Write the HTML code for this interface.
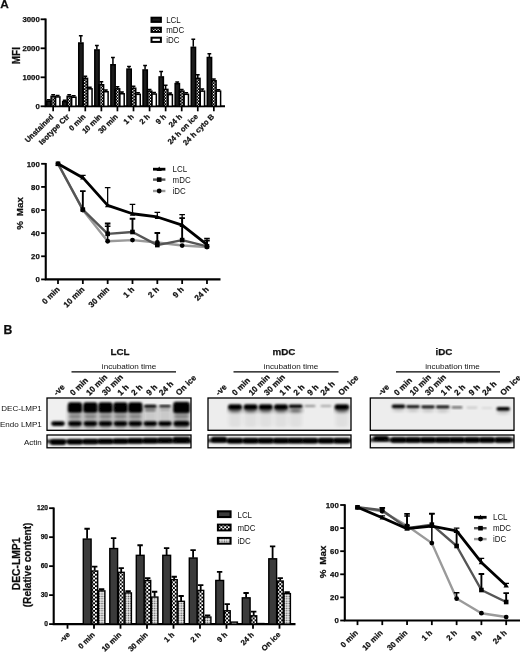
<!DOCTYPE html>
<html><head><meta charset="utf-8"><title>Figure</title>
<style>html,body{margin:0;padding:0;background:#fff;}svg{display:block;}text{font-family:"Liberation Sans", sans-serif;}</style>
</head><body>
<svg width="520" height="653" viewBox="0 0 520 653">
<defs>
<pattern id="chk" width="3" height="3" patternUnits="userSpaceOnUse"><rect width="3" height="3" fill="#000"/><rect width="1.3" height="1.3" fill="#fff"/><rect x="1.5" y="1.5" width="1.3" height="1.3" fill="#fff"/></pattern>
<pattern id="dot" width="2.4" height="2.4" patternUnits="userSpaceOnUse"><rect width="2.4" height="2.4" fill="#fff"/><rect x="0.5" y="0.5" width="1.4" height="1.4" fill="#444"/></pattern><pattern id="chk2" width="3.8" height="3.8" patternUnits="userSpaceOnUse"><rect width="3.8" height="3.8" fill="#fff"/><rect width="1.9" height="1.9" fill="#000"/><rect x="1.9" y="1.9" width="1.9" height="1.9" fill="#000"/></pattern>
<filter id="b1" x="-20%" y="-50%" width="140%" height="200%"><feGaussianBlur stdDeviation="1.1 0.9"/></filter>
<filter id="b2" x="-20%" y="-50%" width="140%" height="200%"><feGaussianBlur stdDeviation="2 1.6"/></filter>
<filter id="soft"><feGaussianBlur stdDeviation="0.35"/></filter>
</defs>
<rect width="520" height="653" fill="#fff"/>
<g filter="url(#soft)">
<text x="0.3" y="8.3" font-size="11.8" font-weight="bold" text-anchor="start" fill="#111" stroke="#111" stroke-width="0.25">A</text>
<g stroke="#000" stroke-width="2.1" fill="none">
<path d="M45.6 18.499999999999996 V106.3 H225"/>
<path d="M40.6 106.3 H45.6" stroke-width="1.8"/>
<path d="M40.6 77.3 H45.6" stroke-width="1.8"/>
<path d="M40.6 48.3 H45.6" stroke-width="1.8"/>
<path d="M40.6 19.299999999999997 H45.6" stroke-width="1.8"/>
</g>
<text x="39.800000000000004" y="108.8" font-size="7.8" font-weight="bold" text-anchor="end" fill="#111" stroke="#111" stroke-width="0.25">0</text>
<text x="39.800000000000004" y="79.8" font-size="7.8" font-weight="bold" text-anchor="end" fill="#111" stroke="#111" stroke-width="0.25">1000</text>
<text x="39.800000000000004" y="50.8" font-size="7.8" font-weight="bold" text-anchor="end" fill="#111" stroke="#111" stroke-width="0.25">2000</text>
<text x="39.800000000000004" y="21.799999999999997" font-size="7.8" font-weight="bold" text-anchor="end" fill="#111" stroke="#111" stroke-width="0.25">3000</text>
<text x="19.8" y="55.6" font-size="10" font-weight="bold" text-anchor="middle" fill="#111" transform="rotate(-90 19.8 55.6)" stroke="#111" stroke-width="0.25">MFI</text>
<path d="M53.15 106.3 V111.3" stroke="#000" stroke-width="1.7"/>
<text x="53.95" y="117.1" font-size="7.6" font-weight="bold" text-anchor="end" fill="#111" transform="rotate(-45 53.95 117.1)" stroke="#111" stroke-width="0.25">Unstained</text>
<path d="M48.65 100.5 V99.63 M46.75 99.63 H50.55" stroke="#000" stroke-width="1.5" fill="none"/>
<rect x="46.6" y="101.0" width="4.3" height="5.3" fill="#1a1a1a" stroke="#000" stroke-width="1.5"/>
<path d="M53.15 95.86 V94.7 M51.25 94.7 H55.05" stroke="#000" stroke-width="1.5" fill="none"/>
<rect x="51.1" y="96.36" width="4.3" height="9.94" fill="url(#chk)" stroke="#000" stroke-width="1.5"/>
<path d="M57.65 96.44 V95.57 M55.75 95.57 H59.55" stroke="#000" stroke-width="1.5" fill="none"/>
<rect x="55.6" y="96.94" width="4.3" height="9.36" fill="#fff" stroke="#000" stroke-width="1.5"/>
<path d="M69.22 106.3 V111.3" stroke="#000" stroke-width="1.7"/>
<text x="70.02" y="117.1" font-size="7.6" font-weight="bold" text-anchor="end" fill="#111" transform="rotate(-45 70.02 117.1)" stroke="#111" stroke-width="0.25">Isotype Ctr</text>
<path d="M64.72 101.08 V100.21 M62.82 100.21 H66.62" stroke="#000" stroke-width="1.5" fill="none"/>
<rect x="62.67" y="101.58" width="4.3" height="4.72" fill="#1a1a1a" stroke="#000" stroke-width="1.5"/>
<path d="M69.22 95.86 V94.7 M67.32 94.7 H71.12" stroke="#000" stroke-width="1.5" fill="none"/>
<rect x="67.17" y="96.36" width="4.3" height="9.94" fill="url(#chk)" stroke="#000" stroke-width="1.5"/>
<path d="M73.72 96.73 V95.86 M71.82 95.86 H75.62" stroke="#000" stroke-width="1.5" fill="none"/>
<rect x="71.67" y="97.23" width="4.3" height="9.07" fill="#fff" stroke="#000" stroke-width="1.5"/>
<path d="M85.29 106.3 V111.3" stroke="#000" stroke-width="1.7"/>
<text x="86.09" y="117.1" font-size="7.6" font-weight="bold" text-anchor="end" fill="#111" transform="rotate(-45 86.09 117.1)" stroke="#111" stroke-width="0.25">0 min</text>
<path d="M80.79 42.5 V35.83 M78.89 35.83 H82.69" stroke="#000" stroke-width="1.5" fill="none"/>
<rect x="78.74" y="43.0" width="4.3" height="63.3" fill="#1a1a1a" stroke="#000" stroke-width="1.5"/>
<path d="M85.29 77.88 V76.14 M83.39 76.14 H87.19" stroke="#000" stroke-width="1.5" fill="none"/>
<rect x="83.24" y="78.38" width="4.3" height="27.92" fill="url(#chk)" stroke="#000" stroke-width="1.5"/>
<path d="M89.79 88.32 V87.16 M87.89 87.16 H91.69" stroke="#000" stroke-width="1.5" fill="none"/>
<rect x="87.74" y="88.82" width="4.3" height="17.48" fill="#fff" stroke="#000" stroke-width="1.5"/>
<path d="M101.36 106.3 V111.3" stroke="#000" stroke-width="1.7"/>
<text x="102.16" y="117.1" font-size="7.6" font-weight="bold" text-anchor="end" fill="#111" transform="rotate(-45 102.16 117.1)" stroke="#111" stroke-width="0.25">10 min</text>
<path d="M96.86 49.46 V45.4 M94.96 45.4 H98.76" stroke="#000" stroke-width="1.5" fill="none"/>
<rect x="94.81" y="49.96" width="4.3" height="56.34" fill="#1a1a1a" stroke="#000" stroke-width="1.5"/>
<path d="M101.36 84.26 V81.65 M99.46 81.65 H103.26" stroke="#000" stroke-width="1.5" fill="none"/>
<rect x="99.31" y="84.76" width="4.3" height="21.54" fill="url(#chk)" stroke="#000" stroke-width="1.5"/>
<path d="M105.86 91.22 V90.06 M103.96 90.06 H107.76" stroke="#000" stroke-width="1.5" fill="none"/>
<rect x="103.81" y="91.72" width="4.3" height="14.58" fill="#fff" stroke="#000" stroke-width="1.5"/>
<path d="M117.43 106.3 V111.3" stroke="#000" stroke-width="1.7"/>
<text x="118.23" y="117.1" font-size="7.6" font-weight="bold" text-anchor="end" fill="#111" transform="rotate(-45 118.23 117.1)" stroke="#111" stroke-width="0.25">30 min</text>
<path d="M112.93 64.25 V57.58 M111.03 57.58 H114.83" stroke="#000" stroke-width="1.5" fill="none"/>
<rect x="110.88" y="64.75" width="4.3" height="41.55" fill="#1a1a1a" stroke="#000" stroke-width="1.5"/>
<path d="M117.43 88.32 V86.87 M115.53 86.87 H119.33" stroke="#000" stroke-width="1.5" fill="none"/>
<rect x="115.38" y="88.82" width="4.3" height="17.48" fill="url(#chk)" stroke="#000" stroke-width="1.5"/>
<path d="M121.93 93.25 V92.09 M120.03 92.09 H123.83" stroke="#000" stroke-width="1.5" fill="none"/>
<rect x="119.88" y="93.75" width="4.3" height="12.55" fill="#fff" stroke="#000" stroke-width="1.5"/>
<path d="M133.5 106.3 V111.3" stroke="#000" stroke-width="1.7"/>
<text x="134.3" y="117.1" font-size="7.6" font-weight="bold" text-anchor="end" fill="#111" transform="rotate(-45 134.3 117.1)" stroke="#111" stroke-width="0.25">1 h</text>
<path d="M129.0 68.6 V66.57 M127.1 66.57 H130.9" stroke="#000" stroke-width="1.5" fill="none"/>
<rect x="126.95" y="69.1" width="4.3" height="37.2" fill="#1a1a1a" stroke="#000" stroke-width="1.5"/>
<path d="M133.5 87.74 V86.29 M131.6 86.29 H135.4" stroke="#000" stroke-width="1.5" fill="none"/>
<rect x="131.45" y="88.24" width="4.3" height="18.06" fill="url(#chk)" stroke="#000" stroke-width="1.5"/>
<path d="M138.0 93.83 V92.67 M136.1 92.67 H139.9" stroke="#000" stroke-width="1.5" fill="none"/>
<rect x="135.95" y="94.33" width="4.3" height="11.97" fill="#fff" stroke="#000" stroke-width="1.5"/>
<path d="M149.57 106.3 V111.3" stroke="#000" stroke-width="1.7"/>
<text x="150.37" y="117.1" font-size="7.6" font-weight="bold" text-anchor="end" fill="#111" transform="rotate(-45 150.37 117.1)" stroke="#111" stroke-width="0.25">2 h</text>
<path d="M145.07 69.47 V65.41 M143.17 65.41 H146.97" stroke="#000" stroke-width="1.5" fill="none"/>
<rect x="143.02" y="69.97" width="4.3" height="36.33" fill="#1a1a1a" stroke="#000" stroke-width="1.5"/>
<path d="M149.57 90.64 V89.48 M147.67 89.48 H151.47" stroke="#000" stroke-width="1.5" fill="none"/>
<rect x="147.52" y="91.14" width="4.3" height="15.16" fill="url(#chk)" stroke="#000" stroke-width="1.5"/>
<path d="M154.07 93.54 V92.38 M152.17 92.38 H155.97" stroke="#000" stroke-width="1.5" fill="none"/>
<rect x="152.02" y="94.04" width="4.3" height="12.26" fill="#fff" stroke="#000" stroke-width="1.5"/>
<path d="M165.64 106.3 V111.3" stroke="#000" stroke-width="1.7"/>
<text x="166.44" y="117.1" font-size="7.6" font-weight="bold" text-anchor="end" fill="#111" transform="rotate(-45 166.44 117.1)" stroke="#111" stroke-width="0.25">9 h</text>
<path d="M161.14 76.43 V71.5 M159.24 71.5 H163.04" stroke="#000" stroke-width="1.5" fill="none"/>
<rect x="159.09" y="76.93" width="4.3" height="29.37" fill="#1a1a1a" stroke="#000" stroke-width="1.5"/>
<path d="M165.64 88.9 V85.13 M163.74 85.13 H167.54" stroke="#000" stroke-width="1.5" fill="none"/>
<rect x="163.59" y="89.4" width="4.3" height="16.9" fill="url(#chk)" stroke="#000" stroke-width="1.5"/>
<path d="M170.14 94.12 V92.96 M168.24 92.96 H172.04" stroke="#000" stroke-width="1.5" fill="none"/>
<rect x="168.09" y="94.62" width="4.3" height="11.68" fill="#fff" stroke="#000" stroke-width="1.5"/>
<path d="M181.71 106.3 V111.3" stroke="#000" stroke-width="1.7"/>
<text x="182.51" y="117.1" font-size="7.6" font-weight="bold" text-anchor="end" fill="#111" transform="rotate(-45 182.51 117.1)" stroke="#111" stroke-width="0.25">24 h</text>
<path d="M177.21 83.1 V81.94 M175.31 81.94 H179.11" stroke="#000" stroke-width="1.5" fill="none"/>
<rect x="175.16" y="83.6" width="4.3" height="22.7" fill="#1a1a1a" stroke="#000" stroke-width="1.5"/>
<path d="M181.71 90.64 V89.48 M179.81 89.48 H183.61" stroke="#000" stroke-width="1.5" fill="none"/>
<rect x="179.66" y="91.14" width="4.3" height="15.16" fill="url(#chk)" stroke="#000" stroke-width="1.5"/>
<path d="M186.21 93.83 V92.67 M184.31 92.67 H188.11" stroke="#000" stroke-width="1.5" fill="none"/>
<rect x="184.16" y="94.33" width="4.3" height="11.97" fill="#fff" stroke="#000" stroke-width="1.5"/>
<path d="M197.78 106.3 V111.3" stroke="#000" stroke-width="1.7"/>
<text x="198.58" y="117.1" font-size="7.6" font-weight="bold" text-anchor="end" fill="#111" transform="rotate(-45 198.58 117.1)" stroke="#111" stroke-width="0.25">24 h on ice</text>
<path d="M193.28 46.85 V39.31 M191.38 39.31 H195.18" stroke="#000" stroke-width="1.5" fill="none"/>
<rect x="191.23" y="47.35" width="4.3" height="58.95" fill="#1a1a1a" stroke="#000" stroke-width="1.5"/>
<path d="M197.78 77.88 V74.69 M195.88 74.69 H199.68" stroke="#000" stroke-width="1.5" fill="none"/>
<rect x="195.73" y="78.38" width="4.3" height="27.92" fill="url(#chk)" stroke="#000" stroke-width="1.5"/>
<path d="M202.28 90.64 V88.9 M200.38 88.9 H204.18" stroke="#000" stroke-width="1.5" fill="none"/>
<rect x="200.23" y="91.14" width="4.3" height="15.16" fill="#fff" stroke="#000" stroke-width="1.5"/>
<path d="M213.85 106.3 V111.3" stroke="#000" stroke-width="1.7"/>
<text x="214.65" y="117.1" font-size="7.6" font-weight="bold" text-anchor="end" fill="#111" transform="rotate(-45 214.65 117.1)" stroke="#111" stroke-width="0.25">24 h cyto B</text>
<path d="M209.35 57.0 V53.81 M207.45 53.81 H211.25" stroke="#000" stroke-width="1.5" fill="none"/>
<rect x="207.3" y="57.5" width="4.3" height="48.8" fill="#1a1a1a" stroke="#000" stroke-width="1.5"/>
<path d="M213.85 80.2 V79.04 M211.95 79.04 H215.75" stroke="#000" stroke-width="1.5" fill="none"/>
<rect x="211.8" y="80.7" width="4.3" height="25.6" fill="url(#chk)" stroke="#000" stroke-width="1.5"/>
<path d="M218.35 90.64 V89.77 M216.45 89.77 H220.25" stroke="#000" stroke-width="1.5" fill="none"/>
<rect x="216.3" y="91.14" width="4.3" height="15.16" fill="#fff" stroke="#000" stroke-width="1.5"/>
<rect x="151.5" y="17.7" width="9.4" height="4.2" fill="#1a1a1a" stroke="#000" stroke-width="2"/>
<text x="0" y="0" font-size="8.6" font-weight="normal" text-anchor="start" fill="#111" transform="translate(166.2 22.7) scale(0.92 1)">LCL</text>
<rect x="151.5" y="27.7" width="9.4" height="4.2" fill="url(#chk)" stroke="#000" stroke-width="2"/>
<text x="0" y="0" font-size="8.6" font-weight="normal" text-anchor="start" fill="#111" transform="translate(166.2 32.7) scale(0.92 1)">mDC</text>
<rect x="151.5" y="37.7" width="9.4" height="4.2" fill="#fff" stroke="#000" stroke-width="2"/>
<text x="0" y="0" font-size="8.6" font-weight="normal" text-anchor="start" fill="#111" transform="translate(166.2 42.7) scale(0.92 1)">iDC</text>
<g stroke="#000" stroke-width="2.1" fill="none">
<path d="M45.75 162.99999999999997 V279.4 H220.5"/>
<path d="M41.15 279.4 H45.75" stroke-width="1.8"/>
<path d="M41.15 256.28 H45.75" stroke-width="1.8"/>
<path d="M41.15 233.15999999999997 H45.75" stroke-width="1.8"/>
<path d="M41.15 210.03999999999996 H45.75" stroke-width="1.8"/>
<path d="M41.15 186.92 H45.75" stroke-width="1.8"/>
<path d="M41.15 163.79999999999998 H45.75" stroke-width="1.8"/>
</g>
<text x="39.75" y="282.2" font-size="7.8" font-weight="bold" text-anchor="end" fill="#111" stroke="#111" stroke-width="0.25">0</text>
<text x="39.75" y="259.08" font-size="7.8" font-weight="bold" text-anchor="end" fill="#111" stroke="#111" stroke-width="0.25">20</text>
<text x="39.75" y="235.95999999999998" font-size="7.8" font-weight="bold" text-anchor="end" fill="#111" stroke="#111" stroke-width="0.25">40</text>
<text x="39.75" y="212.83999999999997" font-size="7.8" font-weight="bold" text-anchor="end" fill="#111" stroke="#111" stroke-width="0.25">60</text>
<text x="39.75" y="189.72" font-size="7.8" font-weight="bold" text-anchor="end" fill="#111" stroke="#111" stroke-width="0.25">80</text>
<text x="39.75" y="166.6" font-size="7.8" font-weight="bold" text-anchor="end" fill="#111" stroke="#111" stroke-width="0.25">100</text>
<text x="23.2" y="213.5" font-size="9.8" font-weight="bold" text-anchor="middle" fill="#111" transform="rotate(-90 23.2 213.5)" word-spacing="2.2" stroke="#111" stroke-width="0.25">% Max</text>
<path d="M58.0 279.4 V284.0" stroke="#000" stroke-width="1.8"/>
<text x="60.2" y="289.9" font-size="8.1" font-weight="bold" text-anchor="end" fill="#111" transform="rotate(-45 60.2 289.9)" stroke="#111" stroke-width="0.25">0 min</text>
<path d="M82.83 279.4 V284.0" stroke="#000" stroke-width="1.8"/>
<text x="85.03" y="289.9" font-size="8.1" font-weight="bold" text-anchor="end" fill="#111" transform="rotate(-45 85.03 289.9)" stroke="#111" stroke-width="0.25">10 min</text>
<path d="M107.66 279.4 V284.0" stroke="#000" stroke-width="1.8"/>
<text x="109.86" y="289.9" font-size="8.1" font-weight="bold" text-anchor="end" fill="#111" transform="rotate(-45 109.86 289.9)" stroke="#111" stroke-width="0.25">30 min</text>
<path d="M132.49 279.4 V284.0" stroke="#000" stroke-width="1.8"/>
<text x="134.69" y="289.9" font-size="8.1" font-weight="bold" text-anchor="end" fill="#111" transform="rotate(-45 134.69 289.9)" stroke="#111" stroke-width="0.25">1 h</text>
<path d="M157.32 279.4 V284.0" stroke="#000" stroke-width="1.8"/>
<text x="159.52" y="289.9" font-size="8.1" font-weight="bold" text-anchor="end" fill="#111" transform="rotate(-45 159.52 289.9)" stroke="#111" stroke-width="0.25">2 h</text>
<path d="M182.15 279.4 V284.0" stroke="#000" stroke-width="1.8"/>
<text x="184.35" y="289.9" font-size="8.1" font-weight="bold" text-anchor="end" fill="#111" transform="rotate(-45 184.35 289.9)" stroke="#111" stroke-width="0.25">9 h</text>
<path d="M206.98 279.4 V284.0" stroke="#000" stroke-width="1.8"/>
<text x="209.18" y="289.9" font-size="8.1" font-weight="bold" text-anchor="end" fill="#111" transform="rotate(-45 209.18 289.9)" stroke="#111" stroke-width="0.25">24 h</text>
<polyline points="58.0,163.8 82.83,210.04 107.66,241.25 132.49,240.1 157.32,242.52 182.15,245.53 206.98,247.03" fill="none" stroke="#9a9a9a" stroke-width="2.4" stroke-linejoin="round"/>
<circle cx="58.0" cy="163.8" r="2.4" fill="#000"/>
<circle cx="82.83" cy="210.04" r="2.4" fill="#000"/>
<path d="M107.66 241.25 V226.22 M104.86 226.22 H110.46" stroke="#000" stroke-width="1.5" fill="none"/>
<circle cx="107.66" cy="241.25" r="2.4" fill="#000"/>
<circle cx="132.49" cy="240.1" r="2.4" fill="#000"/>
<circle cx="157.32" cy="242.52" r="2.4" fill="#000"/>
<circle cx="182.15" cy="245.53" r="2.4" fill="#000"/>
<circle cx="206.98" cy="247.03" r="2.4" fill="#000"/>
<polyline points="58.0,163.8 82.83,209.58 107.66,233.85 132.49,232.0 157.32,245.07 182.15,240.1 206.98,246.34" fill="none" stroke="#555" stroke-width="2.4" stroke-linejoin="round"/>
<rect x="55.7" y="161.5" width="4.6" height="4.6" fill="#000"/>
<path d="M82.83 209.58 V191.08 M80.03 191.08 H85.63" stroke="#000" stroke-width="1.9" fill="none"/>
<rect x="80.53" y="207.28" width="4.6" height="4.6" fill="#000"/>
<path d="M107.66 233.85 V223.45 M104.86 223.45 H110.46" stroke="#000" stroke-width="1.9" fill="none"/>
<rect x="105.36" y="231.54999999999998" width="4.6" height="4.6" fill="#000"/>
<path d="M132.49 232.0 V218.71 M129.69 218.71 H135.29" stroke="#000" stroke-width="1.9" fill="none"/>
<rect x="130.19" y="229.7" width="4.6" height="4.6" fill="#000"/>
<path d="M157.32 245.07 V232.93 M154.52 232.93 H160.12" stroke="#000" stroke-width="1.9" fill="none"/>
<rect x="155.01999999999998" y="242.76999999999998" width="4.6" height="4.6" fill="#000"/>
<path d="M182.15 240.1 V218.13 M179.35 218.13 H184.95" stroke="#000" stroke-width="1.9" fill="none"/>
<rect x="179.85" y="237.79999999999998" width="4.6" height="4.6" fill="#000"/>
<path d="M206.98 246.34 V240.56 M204.18 240.56 H209.78" stroke="#000" stroke-width="1.9" fill="none"/>
<rect x="204.67999999999998" y="244.04" width="4.6" height="4.6" fill="#000"/>
<polyline points="58.0,163.8 82.83,177.67 107.66,205.42 132.49,213.74 157.32,216.98 182.15,225.07 206.98,244.72" fill="none" stroke="#000" stroke-width="2.8" stroke-linejoin="round"/>
<path d="M58.0 161.20000000000002 L60.7 165.70000000000002 L55.3 165.70000000000002 Z" fill="#000"/>
<path d="M82.83 177.67 V175.36 M80.03 175.36 H85.63" stroke="#000" stroke-width="1.25" fill="none"/>
<path d="M82.83 175.07 L85.53 179.57 L80.13 179.57 Z" fill="#000"/>
<path d="M107.66 205.42 V187.5 M104.86 187.5 H110.46" stroke="#000" stroke-width="1.25" fill="none"/>
<path d="M107.66 202.82 L110.36 207.32 L104.96 207.32 Z" fill="#000"/>
<path d="M132.49 213.74 V204.49 M129.69 204.49 H135.29" stroke="#000" stroke-width="1.25" fill="none"/>
<path d="M132.49 211.14000000000001 L135.19 215.64000000000001 L129.79000000000002 215.64000000000001 Z" fill="#000"/>
<path d="M157.32 216.98 V212.35 M154.52 212.35 H160.12" stroke="#000" stroke-width="1.25" fill="none"/>
<path d="M157.32 214.38 L160.01999999999998 218.88 L154.62 218.88 Z" fill="#000"/>
<path d="M182.15 225.07 V214.66 M179.35 214.66 H184.95" stroke="#000" stroke-width="1.25" fill="none"/>
<path d="M182.15 222.47 L184.85 226.97 L179.45000000000002 226.97 Z" fill="#000"/>
<path d="M206.98 244.72 V238.36 M204.18 238.36 H209.78" stroke="#000" stroke-width="1.25" fill="none"/>
<path d="M206.98 242.12 L209.67999999999998 246.62 L204.28 246.62 Z" fill="#000"/>
<path d="M153 169.2 H165.4" stroke="#000" stroke-width="2.8"/>
<path d="M159.2 166.6 L161.89999999999998 171.1 L156.5 171.1 Z" fill="#000"/>
<text x="0" y="0" font-size="8.6" font-weight="normal" text-anchor="start" fill="#111" transform="translate(172.6 171.9) scale(0.92 1)">LCL</text>
<path d="M153 179.6 H165.4" stroke="#555" stroke-width="2.4"/>
<rect x="156.89999999999998" y="177.29999999999998" width="4.6" height="4.6" fill="#000"/>
<text x="0" y="0" font-size="8.6" font-weight="normal" text-anchor="start" fill="#111" transform="translate(172.6 182.6) scale(0.92 1)">mDC</text>
<path d="M153 191 H165.4" stroke="#9a9a9a" stroke-width="2.4"/>
<circle cx="159.2" cy="191" r="2.4" fill="#000"/>
<text x="0" y="0" font-size="8.6" font-weight="normal" text-anchor="start" fill="#111" transform="translate(172.6 193.6) scale(0.92 1)">iDC</text>
<text x="3.5" y="334.2" font-size="12.2" font-weight="bold" text-anchor="start" fill="#111" stroke="#111" stroke-width="0.25">B</text>
<text x="120" y="354.6" font-size="9.8" font-weight="bold" text-anchor="middle" fill="#111" stroke="#111" stroke-width="0.25">LCL</text>
<text x="129.1" y="368.9" font-size="8.1" font-weight="normal" text-anchor="middle" fill="#111">incubation time</text>
<path d="M71.5 371.8 H176" stroke="#000" stroke-width="1.2"/>
<text x="56.8" y="396" font-size="8.2" font-weight="bold" text-anchor="start" fill="#111" transform="rotate(-45 56.8 396)" stroke="#111" stroke-width="0.25">-ve</text>
<text x="73.3" y="396" font-size="8.2" font-weight="bold" text-anchor="start" fill="#111" transform="rotate(-45 73.3 396)" stroke="#111" stroke-width="0.25">0 min</text>
<text x="89.5" y="396" font-size="8.2" font-weight="bold" text-anchor="start" fill="#111" transform="rotate(-45 89.5 396)" stroke="#111" stroke-width="0.25">10 min</text>
<text x="105.3" y="396" font-size="8.2" font-weight="bold" text-anchor="start" fill="#111" transform="rotate(-45 105.3 396)" stroke="#111" stroke-width="0.25">30 min</text>
<text x="120.8" y="396" font-size="8.2" font-weight="bold" text-anchor="start" fill="#111" transform="rotate(-45 120.8 396)" stroke="#111" stroke-width="0.25">1 h</text>
<text x="134.6" y="396" font-size="8.2" font-weight="bold" text-anchor="start" fill="#111" transform="rotate(-45 134.6 396)" stroke="#111" stroke-width="0.25">2 h</text>
<text x="149.4" y="396" font-size="8.2" font-weight="bold" text-anchor="start" fill="#111" transform="rotate(-45 149.4 396)" stroke="#111" stroke-width="0.25">9 h</text>
<text x="162.3" y="396" font-size="8.2" font-weight="bold" text-anchor="start" fill="#111" transform="rotate(-45 162.3 396)" stroke="#111" stroke-width="0.25">24 h</text>
<text x="179.1" y="396" font-size="8.2" font-weight="bold" text-anchor="start" fill="#111" transform="rotate(-45 179.1 396)" stroke="#111" stroke-width="0.25">On ice</text>
<text x="284" y="354.6" font-size="9.8" font-weight="bold" text-anchor="middle" fill="#111" stroke="#111" stroke-width="0.25">mDC</text>
<text x="291" y="368.9" font-size="8.1" font-weight="normal" text-anchor="middle" fill="#111">incubation time</text>
<path d="M233.5 371.8 H338.5" stroke="#000" stroke-width="1.2"/>
<text x="218.8" y="396" font-size="8.2" font-weight="bold" text-anchor="start" fill="#111" transform="rotate(-45 218.8 396)" stroke="#111" stroke-width="0.25">-ve</text>
<text x="235.3" y="396" font-size="8.2" font-weight="bold" text-anchor="start" fill="#111" transform="rotate(-45 235.3 396)" stroke="#111" stroke-width="0.25">0 min</text>
<text x="251.9" y="396" font-size="8.2" font-weight="bold" text-anchor="start" fill="#111" transform="rotate(-45 251.9 396)" stroke="#111" stroke-width="0.25">10 min</text>
<text x="267.3" y="396" font-size="8.2" font-weight="bold" text-anchor="start" fill="#111" transform="rotate(-45 267.3 396)" stroke="#111" stroke-width="0.25">30 min</text>
<text x="282.8" y="396" font-size="8.2" font-weight="bold" text-anchor="start" fill="#111" transform="rotate(-45 282.8 396)" stroke="#111" stroke-width="0.25">1 h</text>
<text x="296.7" y="396" font-size="8.2" font-weight="bold" text-anchor="start" fill="#111" transform="rotate(-45 296.7 396)" stroke="#111" stroke-width="0.25">2 h</text>
<text x="310.6" y="396" font-size="8.2" font-weight="bold" text-anchor="start" fill="#111" transform="rotate(-45 310.6 396)" stroke="#111" stroke-width="0.25">9 h</text>
<text x="323.8" y="396" font-size="8.2" font-weight="bold" text-anchor="start" fill="#111" transform="rotate(-45 323.8 396)" stroke="#111" stroke-width="0.25">24 h</text>
<text x="341.4" y="396" font-size="8.2" font-weight="bold" text-anchor="start" fill="#111" transform="rotate(-45 341.4 396)" stroke="#111" stroke-width="0.25">On ice</text>
<text x="444" y="354.6" font-size="9.8" font-weight="bold" text-anchor="middle" fill="#111" stroke="#111" stroke-width="0.25">iDC</text>
<text x="452.5" y="368.9" font-size="8.1" font-weight="normal" text-anchor="middle" fill="#111">incubation time</text>
<path d="M396 371.8 H500" stroke="#000" stroke-width="1.2"/>
<text x="381.3" y="396" font-size="8.2" font-weight="bold" text-anchor="start" fill="#111" transform="rotate(-45 381.3 396)" stroke="#111" stroke-width="0.25">-ve</text>
<text x="397.3" y="396" font-size="8.2" font-weight="bold" text-anchor="start" fill="#111" transform="rotate(-45 397.3 396)" stroke="#111" stroke-width="0.25">0 min</text>
<text x="413.1" y="396" font-size="8.2" font-weight="bold" text-anchor="start" fill="#111" transform="rotate(-45 413.1 396)" stroke="#111" stroke-width="0.25">10 min</text>
<text x="428.3" y="396" font-size="8.2" font-weight="bold" text-anchor="start" fill="#111" transform="rotate(-45 428.3 396)" stroke="#111" stroke-width="0.25">30 min</text>
<text x="443.9" y="396" font-size="8.2" font-weight="bold" text-anchor="start" fill="#111" transform="rotate(-45 443.9 396)" stroke="#111" stroke-width="0.25">1 h</text>
<text x="457.4" y="396" font-size="8.2" font-weight="bold" text-anchor="start" fill="#111" transform="rotate(-45 457.4 396)" stroke="#111" stroke-width="0.25">2 h</text>
<text x="472.1" y="396" font-size="8.2" font-weight="bold" text-anchor="start" fill="#111" transform="rotate(-45 472.1 396)" stroke="#111" stroke-width="0.25">9 h</text>
<text x="485.5" y="396" font-size="8.2" font-weight="bold" text-anchor="start" fill="#111" transform="rotate(-45 485.5 396)" stroke="#111" stroke-width="0.25">24 h</text>
<text x="503.5" y="396" font-size="8.2" font-weight="bold" text-anchor="start" fill="#111" transform="rotate(-45 503.5 396)" stroke="#111" stroke-width="0.25">On ice</text>
<text x="41.8" y="411" font-size="8" font-weight="normal" text-anchor="end" fill="#111">DEC-LMP1</text>
<text x="41.8" y="426.5" font-size="8" font-weight="normal" text-anchor="end" fill="#111">Endo LMP1</text>
<text x="41.8" y="444.5" font-size="8" font-weight="normal" text-anchor="end" fill="#111">Actin</text>
<clipPath id="c1a"><rect x="47" y="398" width="144" height="32.5"/></clipPath>
<clipPath id="c1b"><rect x="47" y="435" width="144" height="12.8"/></clipPath>
<rect x="47" y="398" width="144" height="32.5" fill="#f0f0f0"/>
<rect x="47" y="435" width="144" height="12.8" fill="#f2f2f2"/>
<g clip-path="url(#c1a)">
<rect x="51.2" y="421.3" width="13.6" height="4.6" rx="2.3" fill="#000" opacity="1.0" filter="url(#b1)"/>
<rect x="68.15" y="405.0" width="13.7" height="22" rx="2.5" fill="#000" opacity="0.3" filter="url(#b2)"/>
<rect x="68.4" y="426.0" width="13.2" height="4" rx="2.0" fill="#000" opacity="0.25" filter="url(#b2)"/>
<rect x="67.9" y="402.35" width="14.2" height="10.5" rx="2.5" fill="#000" opacity="1.0" filter="url(#b1)"/>
<rect x="68.9" y="415.2" width="12.2" height="2.2" rx="1.1" fill="#000" opacity="0.28" filter="url(#b1)"/>
<rect x="68.2" y="421.3" width="13.6" height="4.6" rx="2.3" fill="#000" opacity="1.0" filter="url(#b1)"/>
<rect x="83.55" y="405.0" width="13.7" height="22" rx="2.5" fill="#000" opacity="0.3" filter="url(#b2)"/>
<rect x="83.8" y="426.0" width="13.2" height="4" rx="2.0" fill="#000" opacity="0.25" filter="url(#b2)"/>
<rect x="83.3" y="402.35" width="14.2" height="10.5" rx="2.5" fill="#000" opacity="1.0" filter="url(#b1)"/>
<rect x="84.3" y="415.2" width="12.2" height="2.2" rx="1.1" fill="#000" opacity="0.28" filter="url(#b1)"/>
<rect x="83.6" y="421.3" width="13.6" height="4.6" rx="2.3" fill="#000" opacity="1.0" filter="url(#b1)"/>
<rect x="98.65" y="405.0" width="13.7" height="22" rx="2.5" fill="#000" opacity="0.3" filter="url(#b2)"/>
<rect x="98.9" y="426.0" width="13.2" height="4" rx="2.0" fill="#000" opacity="0.25" filter="url(#b2)"/>
<rect x="98.4" y="402.35" width="14.2" height="10.5" rx="2.5" fill="#000" opacity="1.0" filter="url(#b1)"/>
<rect x="99.4" y="415.2" width="12.2" height="2.2" rx="1.1" fill="#000" opacity="0.28" filter="url(#b1)"/>
<rect x="98.7" y="421.3" width="13.6" height="4.6" rx="2.3" fill="#000" opacity="1.0" filter="url(#b1)"/>
<rect x="113.65" y="405.0" width="13.7" height="22" rx="2.5" fill="#000" opacity="0.3" filter="url(#b2)"/>
<rect x="113.9" y="426.0" width="13.2" height="4" rx="2.0" fill="#000" opacity="0.25" filter="url(#b2)"/>
<rect x="113.4" y="402.35" width="14.2" height="10.5" rx="2.5" fill="#000" opacity="1.0" filter="url(#b1)"/>
<rect x="114.4" y="415.2" width="12.2" height="2.2" rx="1.1" fill="#000" opacity="0.28" filter="url(#b1)"/>
<rect x="113.7" y="421.3" width="13.6" height="4.6" rx="2.3" fill="#000" opacity="1.0" filter="url(#b1)"/>
<rect x="128.45" y="405.0" width="13.7" height="22" rx="2.5" fill="#000" opacity="0.3" filter="url(#b2)"/>
<rect x="128.7" y="426.0" width="13.2" height="4" rx="2.0" fill="#000" opacity="0.25" filter="url(#b2)"/>
<rect x="128.2" y="402.35" width="14.2" height="10.5" rx="2.5" fill="#000" opacity="1.0" filter="url(#b1)"/>
<rect x="129.2" y="415.2" width="12.2" height="2.2" rx="1.1" fill="#000" opacity="0.28" filter="url(#b1)"/>
<rect x="128.5" y="421.3" width="13.6" height="4.6" rx="2.3" fill="#000" opacity="1.0" filter="url(#b1)"/>
<rect x="143.45" y="405.0" width="13.7" height="22" rx="2.5" fill="#000" opacity="0.16" filter="url(#b2)"/>
<rect x="143.7" y="426.0" width="13.2" height="4" rx="2.0" fill="#000" opacity="0.25" filter="url(#b2)"/>
<rect x="144.05" y="404.7" width="12.5" height="3.0" rx="1.5" fill="#000" opacity="1.0" filter="url(#b1)"/>
<rect x="144.8" y="408.5" width="11" height="3" rx="1.5" fill="#000" opacity="0.4" filter="url(#b1)"/>
<rect x="143.5" y="421.3" width="13.6" height="4.6" rx="2.3" fill="#000" opacity="1.0" filter="url(#b1)"/>
<rect x="158.15" y="405.0" width="13.7" height="22" rx="2.5" fill="#000" opacity="0.16" filter="url(#b2)"/>
<rect x="158.4" y="426.0" width="13.2" height="4" rx="2.0" fill="#000" opacity="0.25" filter="url(#b2)"/>
<rect x="159.25" y="405.1" width="11.5" height="2.2" rx="1.1" fill="#000" opacity="0.95" filter="url(#b1)"/>
<rect x="160.0" y="408.25" width="10" height="2.5" rx="1.25" fill="#000" opacity="0.15" filter="url(#b1)"/>
<rect x="158.2" y="421.3" width="13.6" height="4.6" rx="2.3" fill="#000" opacity="1.0" filter="url(#b1)"/>
<rect x="173.5" y="405.0" width="16.0" height="22" rx="2.5" fill="#000" opacity="0.3" filter="url(#b2)"/>
<rect x="173.75" y="426.0" width="15.5" height="4" rx="2.0" fill="#000" opacity="0.25" filter="url(#b2)"/>
<rect x="173.25" y="401.85" width="16.5" height="11.5" rx="2.5" fill="#000" opacity="1.0" filter="url(#b1)"/>
<rect x="174.25" y="415.2" width="14.5" height="2.2" rx="1.1" fill="#000" opacity="0.28" filter="url(#b1)"/>
<rect x="173.55" y="420.9" width="15.9" height="5.4" rx="2.5" fill="#000" opacity="1.0" filter="url(#b1)"/>
</g>
<g clip-path="url(#c1b)">
<rect x="44.0" y="439.5" width="150" height="3.8" rx="1.9" fill="#000" opacity="0.75" filter="url(#b1)"/>
<rect x="50.1" y="439.5" width="15.8" height="5.4" rx="2.5" fill="#000" opacity="1.0" filter="url(#b1)"/>
<rect x="67.1" y="439.22" width="15.8" height="5.4" rx="2.5" fill="#000" opacity="1.0" filter="url(#b1)"/>
<rect x="82.5" y="438.94" width="15.8" height="5.4" rx="2.5" fill="#000" opacity="1.0" filter="url(#b1)"/>
<rect x="97.6" y="438.66" width="15.8" height="5.4" rx="2.5" fill="#000" opacity="1.0" filter="url(#b1)"/>
<rect x="112.6" y="438.38" width="15.8" height="5.4" rx="2.5" fill="#000" opacity="1.0" filter="url(#b1)"/>
<rect x="127.4" y="438.1" width="15.8" height="5.4" rx="2.5" fill="#000" opacity="1.0" filter="url(#b1)"/>
<rect x="142.4" y="437.82" width="15.8" height="5.4" rx="2.5" fill="#000" opacity="1.0" filter="url(#b1)"/>
<rect x="157.1" y="437.54" width="15.8" height="5.4" rx="2.5" fill="#000" opacity="1.0" filter="url(#b1)"/>
<rect x="172.5" y="436.7" width="18" height="6.4" rx="2.5" fill="#000" opacity="1.0" filter="url(#b1)"/>
</g>
<rect x="47" y="398" width="144" height="32.3" fill="none" stroke="#000" stroke-width="1.3"/>
<rect x="47" y="435" width="144" height="12.8" fill="none" stroke="#000" stroke-width="1.3"/>
<clipPath id="c2a"><rect x="208" y="398" width="143" height="32.5"/></clipPath>
<clipPath id="c2b"><rect x="208" y="435" width="143" height="12.8"/></clipPath>
<rect x="208" y="398" width="143" height="32.5" fill="#ededed"/>
<rect x="208" y="435" width="143" height="12.8" fill="#f2f2f2"/>
<g clip-path="url(#c2a)">
<rect x="228.0" y="404.2" width="14" height="5.6" rx="2.5" fill="#000" opacity="1.0" filter="url(#b1)"/>
<rect x="228.75" y="408.35" width="12.5" height="4.5" rx="2.25" fill="#000" opacity="0.55" filter="url(#b2)"/>
<rect x="229.0" y="413.0" width="12" height="14" rx="2.5" fill="#000" opacity="0.06" filter="url(#b2)"/>
<rect x="243.6" y="404.2" width="14" height="5.6" rx="2.5" fill="#000" opacity="1.0" filter="url(#b1)"/>
<rect x="244.35" y="408.35" width="12.5" height="4.5" rx="2.25" fill="#000" opacity="0.55" filter="url(#b2)"/>
<rect x="244.6" y="413.0" width="12" height="14" rx="2.5" fill="#000" opacity="0.06" filter="url(#b2)"/>
<rect x="258.7" y="404.2" width="14" height="5.6" rx="2.5" fill="#000" opacity="1.0" filter="url(#b1)"/>
<rect x="259.45" y="408.35" width="12.5" height="4.5" rx="2.25" fill="#000" opacity="0.55" filter="url(#b2)"/>
<rect x="259.7" y="413.0" width="12" height="14" rx="2.5" fill="#000" opacity="0.06" filter="url(#b2)"/>
<rect x="274.0" y="404.2" width="14" height="5.6" rx="2.5" fill="#000" opacity="1.0" filter="url(#b1)"/>
<rect x="274.75" y="408.35" width="12.5" height="4.5" rx="2.25" fill="#000" opacity="0.55" filter="url(#b2)"/>
<rect x="275.0" y="413.0" width="12" height="14" rx="2.5" fill="#000" opacity="0.06" filter="url(#b2)"/>
<rect x="288.6" y="404.4" width="14" height="3.6" rx="1.8" fill="#000" opacity="1.0" filter="url(#b1)"/>
<rect x="289.35" y="408.35" width="12.5" height="4.5" rx="2.25" fill="#000" opacity="0.55" filter="url(#b2)"/>
<rect x="289.6" y="413.0" width="12" height="14" rx="2.5" fill="#000" opacity="0.06" filter="url(#b2)"/>
<rect x="304.5" y="404.9" width="11" height="2.2" rx="1.1" fill="#000" opacity="0.4" filter="url(#b1)"/>
<rect x="320.5" y="404.9" width="11" height="2.2" rx="1.1" fill="#000" opacity="0.30000000000000004" filter="url(#b1)"/>
<rect x="334.55" y="404.2" width="14.5" height="5.6" rx="2.5" fill="#000" opacity="1.0" filter="url(#b1)"/>
<rect x="335.55" y="408.35" width="12.5" height="4.5" rx="2.25" fill="#000" opacity="0.55" filter="url(#b2)"/>
<rect x="335.8" y="413.0" width="12" height="14" rx="2.5" fill="#000" opacity="0.06" filter="url(#b2)"/>
</g>
<g clip-path="url(#c2b)">
<rect x="204.5" y="438.7" width="150" height="3.8" rx="1.9" fill="#000" opacity="0.75" filter="url(#b1)"/>
<rect x="211.0" y="436.8" width="16" height="5.6" rx="2.5" fill="#000" opacity="1.0" filter="url(#b1)"/>
<rect x="227.0" y="438.0" width="16" height="5.6" rx="2.5" fill="#000" opacity="1.0" filter="url(#b1)"/>
<rect x="242.6" y="438.0" width="16" height="5.6" rx="2.5" fill="#000" opacity="1.0" filter="url(#b1)"/>
<rect x="257.7" y="438.0" width="16" height="5.6" rx="2.5" fill="#000" opacity="1.0" filter="url(#b1)"/>
<rect x="273.0" y="438.0" width="16" height="5.6" rx="2.5" fill="#000" opacity="1.0" filter="url(#b1)"/>
<rect x="287.6" y="438.0" width="16" height="5.6" rx="2.5" fill="#000" opacity="1.0" filter="url(#b1)"/>
<rect x="302.0" y="438.0" width="16" height="5.6" rx="2.5" fill="#000" opacity="1.0" filter="url(#b1)"/>
<rect x="318.0" y="438.0" width="16" height="5.6" rx="2.5" fill="#000" opacity="1.0" filter="url(#b1)"/>
<rect x="333.3" y="438.0" width="17" height="5.6" rx="2.5" fill="#000" opacity="1.0" filter="url(#b1)"/>
</g>
<rect x="208" y="398" width="143" height="32.3" fill="none" stroke="#000" stroke-width="1.3"/>
<rect x="208" y="435" width="143" height="12.8" fill="none" stroke="#000" stroke-width="1.3"/>
<clipPath id="c3a"><rect x="370.3" y="398" width="143.7" height="32.5"/></clipPath>
<clipPath id="c3b"><rect x="370.3" y="435" width="143.7" height="12.8"/></clipPath>
<rect x="370.3" y="398" width="143.7" height="32.5" fill="#ededed"/>
<rect x="370.3" y="435" width="143.7" height="12.8" fill="#f2f2f2"/>
<g clip-path="url(#c3a)">
<rect x="391.75" y="404.4" width="13.5" height="3.8" rx="1.9" fill="#000" opacity="1.0" filter="url(#b1)"/>
<rect x="393.0" y="407.8" width="11" height="4" rx="2.0" fill="#000" opacity="0.16" filter="url(#b2)"/>
<rect x="406.25" y="405.2" width="13.5" height="2.8" rx="1.4" fill="#000" opacity="1.0" filter="url(#b1)"/>
<rect x="407.5" y="408.1" width="11" height="4" rx="2.0" fill="#000" opacity="0.16" filter="url(#b2)"/>
<rect x="421.25" y="405.4" width="13.5" height="2.8" rx="1.4" fill="#000" opacity="1.0" filter="url(#b1)"/>
<rect x="422.5" y="408.3" width="11" height="4" rx="2.0" fill="#000" opacity="0.16" filter="url(#b2)"/>
<rect x="436.05" y="405.5" width="13.5" height="2.8" rx="1.4" fill="#000" opacity="1.0" filter="url(#b1)"/>
<rect x="437.3" y="408.4" width="11" height="4" rx="2.0" fill="#000" opacity="0.16" filter="url(#b2)"/>
<rect x="451.5" y="406.3" width="11" height="2.2" rx="1.1" fill="#000" opacity="0.6" filter="url(#b1)"/>
<rect x="466.5" y="406.5" width="11" height="2.2" rx="1.1" fill="#000" opacity="0.14" filter="url(#b1)"/>
<rect x="481.5" y="406.9" width="11" height="2.2" rx="1.1" fill="#000" opacity="0.08" filter="url(#b1)"/>
<rect x="496.45" y="406.9" width="13.5" height="3.8" rx="1.9" fill="#000" opacity="1.0" filter="url(#b1)"/>
<rect x="497.7" y="410.3" width="11" height="4" rx="2.0" fill="#000" opacity="0.16" filter="url(#b2)"/>
</g>
<g clip-path="url(#c3b)">
<rect x="367.0" y="438.1" width="150" height="3.8" rx="1.9" fill="#000" opacity="0.75" filter="url(#b1)"/>
<rect x="373.2" y="435.7" width="15.6" height="5.4" rx="2.5" fill="#000" opacity="1.0" filter="url(#b1)"/>
<rect x="390.7" y="437.3" width="15.6" height="5.4" rx="2.5" fill="#000" opacity="1.0" filter="url(#b1)"/>
<rect x="405.2" y="437.3" width="15.6" height="5.4" rx="2.5" fill="#000" opacity="1.0" filter="url(#b1)"/>
<rect x="420.2" y="437.3" width="15.6" height="5.4" rx="2.5" fill="#000" opacity="1.0" filter="url(#b1)"/>
<rect x="435.0" y="437.3" width="15.6" height="5.4" rx="2.5" fill="#000" opacity="1.0" filter="url(#b1)"/>
<rect x="449.2" y="437.3" width="15.6" height="5.4" rx="2.5" fill="#000" opacity="1.0" filter="url(#b1)"/>
<rect x="464.2" y="437.3" width="15.6" height="5.4" rx="2.5" fill="#000" opacity="1.0" filter="url(#b1)"/>
<rect x="479.2" y="437.3" width="15.6" height="5.4" rx="2.5" fill="#000" opacity="1.0" filter="url(#b1)"/>
<rect x="494.7" y="437.3" width="17" height="5.4" rx="2.5" fill="#000" opacity="1.0" filter="url(#b1)"/>
</g>
<rect x="370.3" y="398" width="143.7" height="32.3" fill="none" stroke="#000" stroke-width="1.3"/>
<rect x="370.3" y="435" width="143.7" height="12.8" fill="none" stroke="#000" stroke-width="1.3"/>
<g stroke="#000" stroke-width="2.1" fill="none">
<path d="M53.7 507.38 V624.1 H295.5"/>
<path d="M49.1 624.1 H53.7" stroke-width="1.8"/>
<path d="M49.1 595.12 H53.7" stroke-width="1.8"/>
<path d="M49.1 566.14 H53.7" stroke-width="1.8"/>
<path d="M49.1 537.16 H53.7" stroke-width="1.8"/>
<path d="M49.1 508.18 H53.7" stroke-width="1.8"/>
</g>
<text x="48.1" y="626.1" font-size="6.7" font-weight="bold" text-anchor="end" fill="#111" stroke="#111" stroke-width="0.25">0</text>
<text x="48.1" y="597.12" font-size="6.7" font-weight="bold" text-anchor="end" fill="#111" stroke="#111" stroke-width="0.25">30</text>
<text x="48.1" y="568.14" font-size="6.7" font-weight="bold" text-anchor="end" fill="#111" stroke="#111" stroke-width="0.25">60</text>
<text x="48.1" y="539.16" font-size="6.7" font-weight="bold" text-anchor="end" fill="#111" stroke="#111" stroke-width="0.25">90</text>
<text x="48.1" y="510.18" font-size="6.7" font-weight="bold" text-anchor="end" fill="#111" stroke="#111" stroke-width="0.25">120</text>
<text x="20.4" y="563.9" font-size="10.3" font-weight="bold" text-anchor="middle" fill="#111" transform="rotate(-90 20.4 563.9)" stroke="#111" stroke-width="0.25">DEC-LMP1</text>
<text x="31.4" y="564.9" font-size="10.1" font-weight="bold" text-anchor="middle" fill="#111" transform="rotate(-90 31.4 564.9)" stroke="#111" stroke-width="0.25">(Relative content)</text>
<path d="M67.5 624.1 V628.7" stroke="#000" stroke-width="1.8"/>
<text x="70.4" y="635.1" font-size="7.6" font-weight="bold" text-anchor="end" fill="#111" transform="rotate(-45 70.4 635.1)" stroke="#111" stroke-width="0.25">-ve</text>
<path d="M94.0 624.1 V628.7" stroke="#000" stroke-width="1.8"/>
<text x="95.4" y="635.1" font-size="7.6" font-weight="bold" text-anchor="end" fill="#111" transform="rotate(-45 95.4 635.1)" stroke="#111" stroke-width="0.25">0 min</text>
<path d="M87.1 538.71 V528.76 M84.4 528.76 H89.8" stroke="#000" stroke-width="1.8" fill="none"/>
<rect x="83.3" y="539.11" width="7.8" height="84.99" fill="#3a3a3a" stroke="#000" stroke-width="1.4"/>
<path d="M94.7 570.58 V566.62 M92.0 566.62 H97.4" stroke="#000" stroke-width="1.8" fill="none"/>
<rect x="91.9" y="570.98" width="5.8" height="53.12" fill="url(#chk2)" stroke="#000" stroke-width="1.4"/>
<path d="M101.6 590.48 V589.03 M98.9 589.03 H104.3" stroke="#000" stroke-width="1.8" fill="none"/>
<rect x="98.5" y="590.88" width="6.4" height="33.22" fill="url(#dot)" stroke="#000" stroke-width="1.4"/>
<path d="M120.5 624.1 V628.7" stroke="#000" stroke-width="1.8"/>
<text x="121.9" y="635.1" font-size="7.6" font-weight="bold" text-anchor="end" fill="#111" transform="rotate(-45 121.9 635.1)" stroke="#111" stroke-width="0.25">10 min</text>
<path d="M113.6 548.17 V538.22 M110.9 538.22 H116.3" stroke="#000" stroke-width="1.8" fill="none"/>
<rect x="109.8" y="548.57" width="7.8" height="75.53" fill="#3a3a3a" stroke="#000" stroke-width="1.4"/>
<path d="M121.2 571.94 V568.17 M118.5 568.17 H123.9" stroke="#000" stroke-width="1.8" fill="none"/>
<rect x="118.4" y="572.34" width="5.8" height="51.76" fill="url(#chk2)" stroke="#000" stroke-width="1.4"/>
<path d="M128.1 592.51 V591.06 M125.4 591.06 H130.8" stroke="#000" stroke-width="1.8" fill="none"/>
<rect x="125.0" y="592.91" width="6.4" height="31.19" fill="url(#dot)" stroke="#000" stroke-width="1.4"/>
<path d="M147.0 624.1 V628.7" stroke="#000" stroke-width="1.8"/>
<text x="148.4" y="635.1" font-size="7.6" font-weight="bold" text-anchor="end" fill="#111" transform="rotate(-45 148.4 635.1)" stroke="#111" stroke-width="0.25">30 min</text>
<path d="M140.1 554.93 V545.27 M137.4 545.27 H142.8" stroke="#000" stroke-width="1.8" fill="none"/>
<rect x="136.3" y="555.33" width="7.8" height="68.77" fill="#3a3a3a" stroke="#000" stroke-width="1.4"/>
<path d="M147.7 580.05 V578.12 M145.0 578.12 H150.4" stroke="#000" stroke-width="1.8" fill="none"/>
<rect x="144.9" y="580.45" width="5.8" height="43.65" fill="url(#chk2)" stroke="#000" stroke-width="1.4"/>
<path d="M154.6 596.67 V591.74 M151.9 591.74 H157.3" stroke="#000" stroke-width="1.8" fill="none"/>
<rect x="151.5" y="597.07" width="6.4" height="27.03" fill="url(#dot)" stroke="#000" stroke-width="1.4"/>
<path d="M173.5 624.1 V628.7" stroke="#000" stroke-width="1.8"/>
<text x="174.9" y="635.1" font-size="7.6" font-weight="bold" text-anchor="end" fill="#111" transform="rotate(-45 174.9 635.1)" stroke="#111" stroke-width="0.25">1 h</text>
<path d="M166.6 554.93 V548.17 M163.9 548.17 H169.3" stroke="#000" stroke-width="1.8" fill="none"/>
<rect x="162.8" y="555.33" width="7.8" height="68.77" fill="#3a3a3a" stroke="#000" stroke-width="1.4"/>
<path d="M174.2 579.28 V576.77 M171.5 576.77 H176.9" stroke="#000" stroke-width="1.8" fill="none"/>
<rect x="171.4" y="579.68" width="5.8" height="44.42" fill="url(#chk2)" stroke="#000" stroke-width="1.4"/>
<path d="M181.1 600.92 V595.99 M178.4 595.99 H183.8" stroke="#000" stroke-width="1.8" fill="none"/>
<rect x="178.0" y="601.32" width="6.4" height="22.78" fill="url(#dot)" stroke="#000" stroke-width="1.4"/>
<path d="M200.0 624.1 V628.7" stroke="#000" stroke-width="1.8"/>
<text x="201.4" y="635.1" font-size="7.6" font-weight="bold" text-anchor="end" fill="#111" transform="rotate(-45 201.4 635.1)" stroke="#111" stroke-width="0.25">2 h</text>
<path d="M193.1 557.64 V550.2 M190.4 550.2 H195.8" stroke="#000" stroke-width="1.8" fill="none"/>
<rect x="189.3" y="558.04" width="7.8" height="66.06" fill="#3a3a3a" stroke="#000" stroke-width="1.4"/>
<path d="M200.7 590.0 V585.07 M198.0 585.07 H203.4" stroke="#000" stroke-width="1.8" fill="none"/>
<rect x="197.9" y="590.4" width="5.8" height="33.7" fill="url(#chk2)" stroke="#000" stroke-width="1.4"/>
<path d="M207.6 616.66 V615.41 M204.9 615.41 H210.3" stroke="#000" stroke-width="1.8" fill="none"/>
<rect x="204.5" y="617.06" width="6.4" height="7.04" fill="url(#dot)" stroke="#000" stroke-width="1.4"/>
<path d="M226.5 624.1 V628.7" stroke="#000" stroke-width="1.8"/>
<text x="227.9" y="635.1" font-size="7.6" font-weight="bold" text-anchor="end" fill="#111" transform="rotate(-45 227.9 635.1)" stroke="#111" stroke-width="0.25">9 h</text>
<path d="M219.6 580.05 V571.84 M216.9 571.84 H222.3" stroke="#000" stroke-width="1.8" fill="none"/>
<rect x="215.8" y="580.45" width="7.8" height="43.65" fill="#3a3a3a" stroke="#000" stroke-width="1.4"/>
<path d="M227.2 610.38 V604.2 M224.5 604.2 H229.9" stroke="#000" stroke-width="1.8" fill="none"/>
<rect x="224.4" y="610.78" width="5.8" height="13.32" fill="url(#chk2)" stroke="#000" stroke-width="1.4"/>
<rect x="231.0" y="622.09" width="6.4" height="2.02" fill="url(#dot)" stroke="#000" stroke-width="1.4"/>
<path d="M253.0 624.1 V628.7" stroke="#000" stroke-width="1.8"/>
<text x="254.4" y="635.1" font-size="7.6" font-weight="bold" text-anchor="end" fill="#111" transform="rotate(-45 254.4 635.1)" stroke="#111" stroke-width="0.25">24 h</text>
<path d="M246.1 597.44 V592.99 M243.4 592.99 H248.8" stroke="#000" stroke-width="1.8" fill="none"/>
<rect x="242.3" y="597.84" width="7.8" height="26.26" fill="#3a3a3a" stroke="#000" stroke-width="1.4"/>
<path d="M253.7 615.41 V611.64 M251.0 611.64 H256.4" stroke="#000" stroke-width="1.8" fill="none"/>
<rect x="250.9" y="615.81" width="5.8" height="8.29" fill="url(#chk2)" stroke="#000" stroke-width="1.4"/>
<rect x="257.5" y="623.53" width="6.4" height="0.57" fill="url(#dot)" stroke="#000" stroke-width="1.4"/>
<path d="M279.5 624.1 V628.7" stroke="#000" stroke-width="1.8"/>
<text x="280.9" y="635.1" font-size="7.6" font-weight="bold" text-anchor="end" fill="#111" transform="rotate(-45 280.9 635.1)" stroke="#111" stroke-width="0.25">On ice</text>
<path d="M272.6 558.41 V546.43 M269.9 546.43 H275.3" stroke="#000" stroke-width="1.8" fill="none"/>
<rect x="268.8" y="558.81" width="7.8" height="65.29" fill="#3a3a3a" stroke="#000" stroke-width="1.4"/>
<path d="M280.2 580.63 V578.12 M277.5 578.12 H282.9" stroke="#000" stroke-width="1.8" fill="none"/>
<rect x="277.4" y="581.03" width="5.8" height="43.07" fill="url(#chk2)" stroke="#000" stroke-width="1.4"/>
<path d="M287.1 593.19 V592.22 M284.4 592.22 H289.8" stroke="#000" stroke-width="1.8" fill="none"/>
<rect x="284.0" y="593.59" width="6.4" height="30.51" fill="url(#dot)" stroke="#000" stroke-width="1.4"/>
<rect x="217.9" y="511.3" width="12.7" height="5.8" fill="#3a3a3a" stroke="#000" stroke-width="2"/>
<text x="0" y="0" font-size="8.6" font-weight="normal" text-anchor="start" fill="#111" transform="translate(237.5 517.7) scale(0.92 1)">LCL</text>
<rect x="217.9" y="524.5999999999999" width="12.7" height="5.8" fill="url(#chk2)" stroke="#000" stroke-width="2"/>
<text x="0" y="0" font-size="8.6" font-weight="normal" text-anchor="start" fill="#111" transform="translate(237.5 531.0) scale(0.92 1)">mDC</text>
<rect x="217.9" y="537.9" width="12.7" height="5.8" fill="url(#dot)" stroke="#000" stroke-width="2"/>
<text x="0" y="0" font-size="8.6" font-weight="normal" text-anchor="start" fill="#111" transform="translate(237.5 544.3000000000001) scale(0.92 1)">iDC</text>
<g stroke="#000" stroke-width="2.1" fill="none">
<path d="M344.8 504.2 V620.5 H520"/>
<path d="M340.2 620.5 H344.8" stroke-width="1.8"/>
<path d="M340.2 597.4 H344.8" stroke-width="1.8"/>
<path d="M340.2 574.3 H344.8" stroke-width="1.8"/>
<path d="M340.2 551.2 H344.8" stroke-width="1.8"/>
<path d="M340.2 528.1 H344.8" stroke-width="1.8"/>
<path d="M340.2 505.0 H344.8" stroke-width="1.8"/>
</g>
<text x="338.8" y="623.3" font-size="7.8" font-weight="bold" text-anchor="end" fill="#111" stroke="#111" stroke-width="0.25">0</text>
<text x="338.8" y="600.2" font-size="7.8" font-weight="bold" text-anchor="end" fill="#111" stroke="#111" stroke-width="0.25">20</text>
<text x="338.8" y="577.1" font-size="7.8" font-weight="bold" text-anchor="end" fill="#111" stroke="#111" stroke-width="0.25">40</text>
<text x="338.8" y="554.0" font-size="7.8" font-weight="bold" text-anchor="end" fill="#111" stroke="#111" stroke-width="0.25">60</text>
<text x="338.8" y="530.9" font-size="7.8" font-weight="bold" text-anchor="end" fill="#111" stroke="#111" stroke-width="0.25">80</text>
<text x="338.8" y="507.8" font-size="7.8" font-weight="bold" text-anchor="end" fill="#111" stroke="#111" stroke-width="0.25">100</text>
<text x="325.8" y="561.9" font-size="9.8" font-weight="bold" text-anchor="middle" fill="#111" transform="rotate(-90 325.8 561.9)" word-spacing="2.2" stroke="#111" stroke-width="0.25">% Max</text>
<path d="M357.5 620.5 V625.1" stroke="#000" stroke-width="1.8"/>
<text x="358.4" y="633.3" font-size="7.9" font-weight="bold" text-anchor="end" fill="#111" transform="rotate(-45 358.4 633.3)" stroke="#111" stroke-width="0.25">0 min</text>
<path d="M382.28 620.5 V625.1" stroke="#000" stroke-width="1.8"/>
<text x="383.18" y="633.3" font-size="7.9" font-weight="bold" text-anchor="end" fill="#111" transform="rotate(-45 383.18 633.3)" stroke="#111" stroke-width="0.25">10 min</text>
<path d="M407.06 620.5 V625.1" stroke="#000" stroke-width="1.8"/>
<text x="407.96" y="633.3" font-size="7.9" font-weight="bold" text-anchor="end" fill="#111" transform="rotate(-45 407.96 633.3)" stroke="#111" stroke-width="0.25">30 min</text>
<path d="M431.84 620.5 V625.1" stroke="#000" stroke-width="1.8"/>
<text x="432.74" y="633.3" font-size="7.9" font-weight="bold" text-anchor="end" fill="#111" transform="rotate(-45 432.74 633.3)" stroke="#111" stroke-width="0.25">1 h</text>
<path d="M456.62 620.5 V625.1" stroke="#000" stroke-width="1.8"/>
<text x="457.52" y="633.3" font-size="7.9" font-weight="bold" text-anchor="end" fill="#111" transform="rotate(-45 457.52 633.3)" stroke="#111" stroke-width="0.25">2 h</text>
<path d="M481.4 620.5 V625.1" stroke="#000" stroke-width="1.8"/>
<text x="482.3" y="633.3" font-size="7.9" font-weight="bold" text-anchor="end" fill="#111" transform="rotate(-45 482.3 633.3)" stroke="#111" stroke-width="0.25">9 h</text>
<path d="M506.18 620.5 V625.1" stroke="#000" stroke-width="1.8"/>
<text x="507.08" y="633.3" font-size="7.9" font-weight="bold" text-anchor="end" fill="#111" transform="rotate(-45 507.08 633.3)" stroke="#111" stroke-width="0.25">24 h</text>
<polyline points="357.5,507.31 382.28,511.35 407.06,525.79 431.84,543.12 456.62,598.55 481.4,613.22 506.18,617.03" fill="none" stroke="#9a9a9a" stroke-width="2.4" stroke-linejoin="round"/>
<circle cx="357.5" cy="507.31" r="2.4" fill="#000"/>
<circle cx="382.28" cy="511.35" r="2.4" fill="#000"/>
<path d="M407.06 525.79 V515.97 M404.26 515.97 H409.86" stroke="#000" stroke-width="1.5" fill="none"/>
<circle cx="407.06" cy="525.79" r="2.4" fill="#000"/>
<path d="M431.84 543.12 V513.66 M429.04 513.66 H434.64" stroke="#000" stroke-width="1.5" fill="none"/>
<circle cx="431.84" cy="543.12" r="2.4" fill="#000"/>
<path d="M456.62 598.55 V592.78 M453.82 592.78 H459.42" stroke="#000" stroke-width="1.5" fill="none"/>
<circle cx="456.62" cy="598.55" r="2.4" fill="#000"/>
<circle cx="481.4" cy="613.22" r="2.4" fill="#000"/>
<circle cx="506.18" cy="617.03" r="2.4" fill="#000"/>
<polyline points="357.5,507.31 382.28,510.2 407.06,528.1 431.84,524.63 456.62,546.0 481.4,590.01 506.18,602.02" fill="none" stroke="#555" stroke-width="2.4" stroke-linejoin="round"/>
<rect x="355.2" y="505.01" width="4.6" height="4.6" fill="#000"/>
<path d="M382.28 510.2 V507.89 M379.48 507.89 H385.08" stroke="#000" stroke-width="1.9" fill="none"/>
<rect x="379.97999999999996" y="507.9" width="4.6" height="4.6" fill="#000"/>
<path d="M407.06 528.1 V513.89 M404.26 513.89 H409.86" stroke="#000" stroke-width="1.9" fill="none"/>
<rect x="404.76" y="525.8000000000001" width="4.6" height="4.6" fill="#000"/>
<path d="M431.84 524.63 V513.66 M429.04 513.66 H434.64" stroke="#000" stroke-width="1.9" fill="none"/>
<rect x="429.53999999999996" y="522.33" width="4.6" height="4.6" fill="#000"/>
<path d="M456.62 546.0 V532.14 M453.82 532.14 H459.42" stroke="#000" stroke-width="1.9" fill="none"/>
<rect x="454.32" y="543.7" width="4.6" height="4.6" fill="#000"/>
<path d="M481.4 590.01 V574.07 M478.6 574.07 H484.2" stroke="#000" stroke-width="1.9" fill="none"/>
<rect x="479.09999999999997" y="587.71" width="4.6" height="4.6" fill="#000"/>
<path d="M506.18 602.02 V593.13 M503.38 593.13 H508.98" stroke="#000" stroke-width="1.9" fill="none"/>
<rect x="503.88" y="599.72" width="4.6" height="4.6" fill="#000"/>
<polyline points="357.5,507.31 382.28,517.71 407.06,528.68 431.84,526.14 456.62,530.99 481.4,562.4 506.18,585.5" fill="none" stroke="#000" stroke-width="2.8" stroke-linejoin="round"/>
<path d="M357.5 504.71 L360.2 509.21 L354.8 509.21 Z" fill="#000"/>
<path d="M382.28 517.71 V515.97 M379.48 515.97 H385.08" stroke="#000" stroke-width="1.25" fill="none"/>
<path d="M382.28 515.11 L384.97999999999996 519.61 L379.58 519.61 Z" fill="#000"/>
<path d="M407.06 528.68 V525.21 M404.26 525.21 H409.86" stroke="#000" stroke-width="1.25" fill="none"/>
<path d="M407.06 526.0799999999999 L409.76 530.5799999999999 L404.36 530.5799999999999 Z" fill="#000"/>
<path d="M431.84 523.54 L434.53999999999996 528.04 L429.14 528.04 Z" fill="#000"/>
<path d="M456.62 530.99 V528.1 M453.82 528.1 H459.42" stroke="#000" stroke-width="1.25" fill="none"/>
<path d="M456.62 528.39 L459.32 532.89 L453.92 532.89 Z" fill="#000"/>
<path d="M481.4 562.4 V558.48 M478.6 558.48 H484.2" stroke="#000" stroke-width="1.25" fill="none"/>
<path d="M481.4 559.8 L484.09999999999997 564.3 L478.7 564.3 Z" fill="#000"/>
<path d="M506.18 585.5 V583.42 M503.38 583.42 H508.98" stroke="#000" stroke-width="1.25" fill="none"/>
<path d="M506.18 582.9 L508.88 587.4 L503.48 587.4 Z" fill="#000"/>
<path d="M474 517.3 H486.6" stroke="#000" stroke-width="2.8"/>
<path d="M480.5 514.6999999999999 L483.2 519.1999999999999 L477.8 519.1999999999999 Z" fill="#000"/>
<text x="0" y="0" font-size="8.6" font-weight="normal" text-anchor="start" fill="#111" transform="translate(493 520.4) scale(0.92 1)">LCL</text>
<path d="M474 528.1999999999999 H486.6" stroke="#555" stroke-width="2.4"/>
<rect x="478.2" y="525.9000000000001" width="4.6" height="4.6" fill="#000"/>
<text x="0" y="0" font-size="8.6" font-weight="normal" text-anchor="start" fill="#111" transform="translate(493 531.3) scale(0.92 1)">mDC</text>
<path d="M474 539.0999999999999 H486.6" stroke="#9a9a9a" stroke-width="2.4"/>
<circle cx="480.5" cy="539.1" r="2.4" fill="#000"/>
<text x="0" y="0" font-size="8.6" font-weight="normal" text-anchor="start" fill="#111" transform="translate(493 542.1999999999999) scale(0.92 1)">iDC</text>
</g>
</svg>
</body></html>
